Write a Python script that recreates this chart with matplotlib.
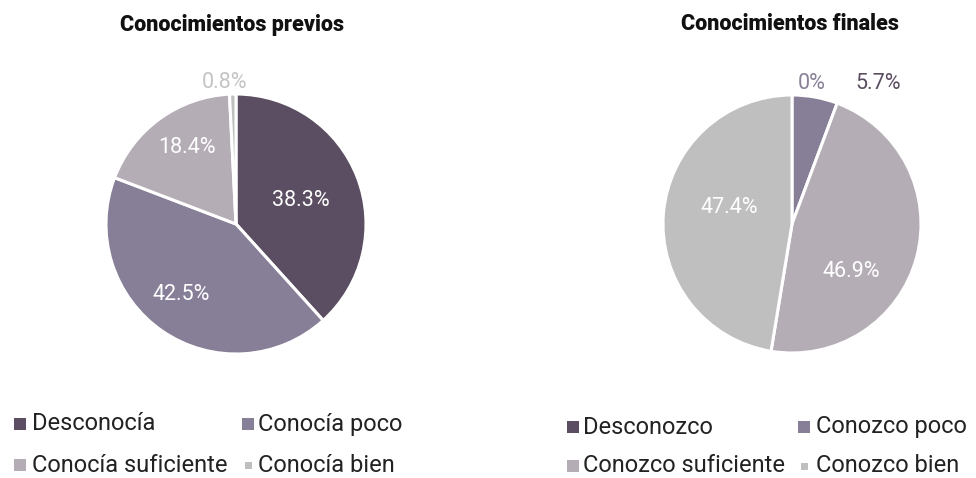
import matplotlib
matplotlib.use("Agg")
import matplotlib.pyplot as plt
from matplotlib.patches import Rectangle

# ---- data ----
titles = ["Conocimientos previos", "Conocimientos finales"]
labels_prev = ["Desconocía", "Conocía poco", "Conocía suficiente", "Conocía bien"]
values_prev = [38.3, 42.5, 18.4, 0.8]
labels_fin = ["Desconozco", "Conozco poco", "Conozco suficiente", "Conozco bien"]
values_fin = [0.0, 5.7, 46.9, 47.4]
pct_text_prev = ["38.3%", "42.5%", "18.4%", "0.8%"]
pct_text_fin = ["0%", "5.7%", "46.9%", "47.4%"]

# ---- style ----
colors = ["#5b4e62", "#877e97", "#b5adb6", "#bfbfbf"]
W, H = 976, 478
fig = plt.figure(figsize=(W / 100, H / 100), dpi=100)
fig.patch.set_facecolor("white")

def px_axes(left, top, right, bottom):
    return fig.add_axes([left / W, 1 - bottom / H, (right - left) / W, (bottom - top) / H])

label_pos_prev = [(0.50, 0.18), (-0.42, -0.54), (-0.38, 0.59), (-0.09, 1.09)]
label_col_prev = ["white", "white", "white", "#c4c4c4"]
label_pos_fin = [(0.15, 1.09), (0.67, 1.09), (0.46, -0.37), (-0.49, 0.13)]
label_col_fin = ["#8a8098", "#5b4e62", "white", "white"]

pct_font = dict(family=["Roboto", "DejaVu Sans"], fontsize=15.5, fontweight="normal")

def draw_pie(ax, values, texts, pos, cols):
    ax.pie(values, colors=colors, startangle=90, counterclock=False,
           wedgeprops=dict(edgecolor="white", linewidth=2.2), radius=1)
    ax.set_xlim(-1, 1)
    ax.set_ylim(-1, 1)
    ax.set_aspect("equal")
    ax.axis("off")
    for t, (x, y), c in zip(texts, pos, cols):
        ax.text(x, y, t, ha="center", va="center", color=c, clip_on=False, **pct_font)

ax1 = px_axes(106, 94, 366, 354)
draw_pie(ax1, values_prev, pct_text_prev, label_pos_prev, label_col_prev)
ax2 = px_axes(663, 95, 921, 353)
draw_pie(ax2, values_fin, pct_text_fin, label_pos_fin, label_col_fin)

title_font = dict(family=["Roboto", "DejaVu Sans"], fontsize=15.5, fontweight=900, color="#111111")
fig.text(232 / W, 1 - 25 / H, titles[0], ha="center", va="center", **title_font)
fig.text(790 / W, 1 - 24 / H, titles[1], ha="center", va="center", **title_font)

# ---- legends ----
leg_font = dict(family=["Roboto", "DejaVu Sans"], fontsize=17, color="#222222")

def legend(labels, col_x, row_y):
    for i, lab in enumerate(labels):
        r, c = divmod(i, 2)
        sx, tx = col_x[c]
        y = row_y[r]
        size = 12 if i < 3 else 7
        cx = sx + 6
        fig.add_artist(Rectangle(((cx - size / 2) / W, 1 - (y + size / 2) / H),
                                 size / W, size / H, transform=fig.transFigure,
                                 facecolor=colors[i], edgecolor="none"))
        fig.text(tx / W, 1 - y / H, lab, ha="left", va="center", **leg_font)

legend(labels_prev, [(14, 32), (242, 258)], [424, 465])
legend(labels_fin, [(567, 583), (798, 816)], [427, 466])

fig.savefig("out.png", dpi=100, facecolor="white")
